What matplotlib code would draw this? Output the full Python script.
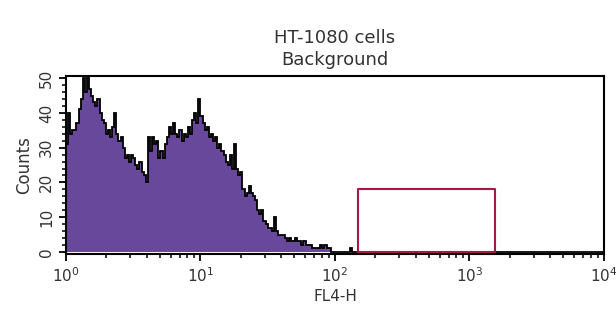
import numpy as np
import matplotlib.pyplot as plt

# FL4-H histogram, 256 log-spaced channels over 10^0 .. 10^4
counts = [31, 40, 34, 35, 35, 37, 41, 44, 50, 46,
          51, 47, 45, 43, 42, 44, 40, 38, 37, 34,
          35, 33, 36, 40, 34, 32, 33, 30, 27, 28,
          26, 28, 27, 25, 24, 26, 23, 22, 20, 33,
          29, 33, 31, 32, 27, 29, 27, 31, 33, 36,
          34, 37, 34, 33, 35, 32, 34, 33, 36, 34,
          38, 40, 37, 44, 39, 37, 35, 36, 33, 34,
          32, 33, 30, 31, 29, 28, 26, 25, 28, 24,
          31, 24, 22, 23, 18, 16, 17, 19, 17, 16,
          15, 12, 11, 12, 9, 8, 7, 7, 6, 10,
          6, 5, 5, 5, 4, 3, 4, 3, 3, 4,
          3, 3, 2, 3, 2, 2, 2, 1, 1, 1,
          1, 2, 1, 2, 1, 1, 0, 0, 0, 0,
          0, 0, 0, 0, 0, 1]
counts = counts + [0] * (256 - len(counts))
n_bins = 256
x_range = (1, 1e4)

# gate region
gate_x = (148, 1550)
gate_y = (0, 18.2)

title = 'HT-1080 cells\nBackground'
xlabel = 'FL4-H'
ylabel = 'Counts'

fill_color = '#68489b'
gate_color = '#a8174a'

plt.rcParams['font.family'] = ['DejaVu Sans']

fig = plt.figure(figsize=(6.16, 3.13), dpi=100)
ax = fig.add_axes([0.107, 0.1885, 0.8735, 0.5685])

edges = np.logspace(np.log10(x_range[0]), np.log10(x_range[1]), n_bins + 1)
ax.stairs(counts, edges, fill=True, color=fill_color, zorder=2)
ax.stairs(counts, edges, color='black', linewidth=1.3, zorder=3)

ax.plot([gate_x[0], gate_x[0], gate_x[1], gate_x[1], gate_x[0]],
        [gate_y[0], gate_y[1], gate_y[1], gate_y[0], gate_y[0]],
        color=gate_color, linewidth=1.5, zorder=4)

ax.set_xscale('log')
ax.set_xlim(x_range)
ax.set_ylim(-0.6, 50.6)
ax.set_yticks([0, 10, 20, 30, 40, 50])
ax.set_yticks(np.arange(0, 51, 2), minor=True)

for s in ax.spines.values():
    s.set_linewidth(1.5)
    s.set_color('black')

ax.tick_params(axis='both', which='major', direction='out', length=5, width=1.3,
               labelsize=11, colors='black', labelcolor='#333333')
ax.tick_params(axis='both', which='minor', direction='out', length=3, width=1.1)
ax.tick_params(axis='x', which='major', pad=4)
plt.setp(ax.get_yticklabels(), rotation=90, va='center')

ax.set_xlabel(xlabel, fontsize=11, color='#333333', labelpad=3)
ax.set_ylabel(ylabel, fontsize=12, color='#333333', labelpad=4)
ax.set_title(title, fontsize=13, color='#333333', pad=8, linespacing=1.3)

fig.savefig('out.png', dpi=100)
